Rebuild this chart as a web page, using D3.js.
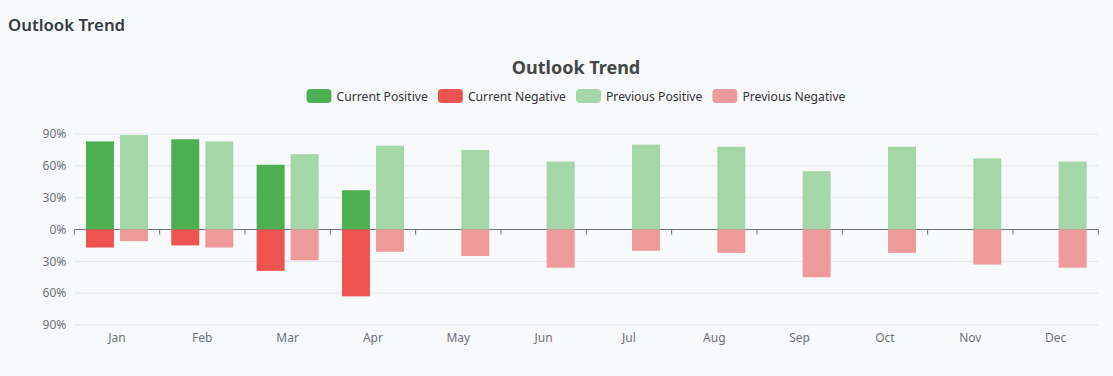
<!DOCTYPE html>
<html><head><meta charset="utf-8">
<script src="https://cdn.jsdelivr.net/npm/d3@7"></script>
<style>
html,body{margin:0;padding:0;background:#f8f9fb;}
svg{display:block;font-family:"Noto Sans","Open Sans",sans-serif;}
</style>
</head><body>
<svg id="c" width="1113" height="376"></svg>
<script>
const months = ["Jan","Feb","Mar","Apr","May","Jun","Jul","Aug","Sep","Oct","Nov","Dec"];
const currentPositive = [83,85,61,37,null,null,null,null,null,null,null,null];
const currentNegative = [-17,-15,-39,-63,null,null,null,null,null,null,null,null];
const previousPositive = [89,83,71,79,75,64,80,78,55,78,67,64];
const previousNegative = [-11,-17,-29,-21,-25,-36,-20,-22,-45,-22,-33,-36];
const yTicks = [-90,-60,-30,0,30,60,90];
const seriesNames = ["Current Positive","Current Negative","Previous Positive","Previous Negative"];
const seriesColors = ["#4caf50","#ef5350","#a5d6a7","#ef9a9a"];
const groups = ["current","previous"];

const svg = d3.select("#c");
const pLeft = 74.3, pRight = 1098.3, pTop = 134, pBottom = 325;

// page title
svg.append("text").attr("x",8).attr("y",31)
  .attr("font-size",16.8).attr("font-weight",600).attr("fill","#343a40")
  .text("Outlook Trend");

// chart title
svg.append("text").attr("x",576).attr("y",74).attr("text-anchor","middle")
  .attr("font-size",18).attr("font-weight",700).attr("fill","#464646")
  .text("Outlook Trend");

// legend
const leg = svg.append("g");
let lx = 0;
seriesNames.forEach((n,i)=>{
  const g = leg.append("g");
  g.append("rect").attr("x",0).attr("y",89).attr("width",25).attr("height",14)
    .attr("rx",4).attr("fill",seriesColors[i]);
  const t = g.append("text").attr("x",30).attr("y",100.5).attr("font-size",12.2)
    .attr("fill","#333").text(n);
  const w = t.node().getComputedTextLength();
  g.attr("transform",`translate(${lx},0)`);
  lx += 30 + w + 10;
});
lx -= 10;
leg.attr("transform",`translate(${576 - lx/2},0)`);

const x0 = d3.scaleBand().domain(months).range([pLeft,pRight]).padding(0);
const x1 = d3.scaleBand().domain(groups).range([0,x0.bandwidth()])
  .paddingInner(0.1765).paddingOuter(0.343);
const y = d3.scaleLinear().domain([-90,90]).range([pBottom,pTop]);

// grid
svg.append("g").selectAll("line").data(yTicks.filter(d=>d!==0)).join("line")
  .attr("x1",pLeft).attr("x2",pRight).attr("y1",d=>y(d)).attr("y2",d=>y(d))
  .attr("stroke","#e0e6f1").attr("stroke-width",1);

// y labels
svg.append("g").selectAll("text").data(yTicks).join("text")
  .attr("x",pLeft-8).attr("y",d=>y(d)).attr("dy","0.35em").attr("text-anchor","end")
  .attr("font-size",12).attr("fill","#6e7079").text(d=>Math.abs(d)+"%");

// zero axis line + ticks
const ax = svg.append("g");
ax.append("line").attr("x1",pLeft).attr("x2",pRight).attr("y1",y(0)).attr("y2",y(0))
  .attr("stroke","#6e7079").attr("stroke-width",1);
const bounds = months.map(m=>x0(m)).concat([pRight]);
ax.selectAll("line.t").data(bounds).join("line").attr("class","t")
  .attr("x1",d=>d).attr("x2",d=>d).attr("y1",y(0)).attr("y2",y(0)+5)
  .attr("stroke","#6e7079").attr("stroke-width",1);

// x labels
svg.append("g").selectAll("text").data(months).join("text")
  .attr("x",d=>x0(d)+x0.bandwidth()/2).attr("y",pBottom+17).attr("text-anchor","middle")
  .attr("font-size",12).attr("fill","#6e7079").text(d=>d);

// bars
const seriesDefs = [
  {vals:currentPositive, grp:"current", color:seriesColors[0]},
  {vals:currentNegative, grp:"current", color:seriesColors[1]},
  {vals:previousPositive, grp:"previous", color:seriesColors[2]},
  {vals:previousNegative, grp:"previous", color:seriesColors[3]}
];
const barsG = svg.append("g");
seriesDefs.forEach(s=>{
  const data = months.map((m,i)=>({m, v:s.vals[i]})).filter(d=>d.v!==null);
  barsG.append("g").selectAll("rect").data(data).join("rect")
    .attr("x",d=>x0(d.m)+x1(s.grp)).attr("width",x1.bandwidth())
    .attr("y",d=>Math.min(y(0),y(d.v))).attr("height",d=>Math.abs(y(d.v)-y(0)))
    .attr("fill",s.color);
});
</script>
</body></html>
